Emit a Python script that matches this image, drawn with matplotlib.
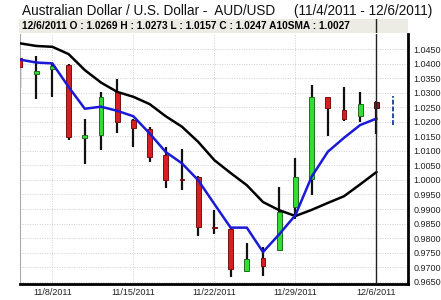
import matplotlib.pyplot as plt
import numpy as np
from matplotlib.patches import Rectangle

plt.rcParams['font.family'] = ['Liberation Sans', 'DejaVu Sans']

# daily AUD/USD candles (trading days only)
dates = ['11/4/2011', '11/7/2011', '11/8/2011', '11/9/2011', '11/10/2011', '11/11/2011',
         '11/14/2011', '11/15/2011', '11/16/2011', '11/17/2011', '11/18/2011',
         '11/21/2011', '11/22/2011', '11/23/2011', '11/24/2011', '11/25/2011',
         '11/28/2011', '11/29/2011', '11/30/2011', '12/1/2011', '12/2/2011',
         '12/5/2011', '12/6/2011']
opens = [1.0418, 1.0366, 1.0380, 1.0394, 1.0146, 1.0154, 1.0301, 1.0206, 1.0177, 1.0085,
         1.0004, 1.0011, 0.9837, 0.9833, 0.9688, 0.9733, 0.9760, 0.9907, 1.0003, 1.0284,
         1.0242, 1.0219, 1.0269]
highs = [1.0422, 1.0426, 1.0403, 1.0398, 1.0209, 1.0301, 1.0347, 1.0208, 1.0183, 1.0112,
         1.0105, 1.0013, 0.9896, 0.9839, 0.9784, 0.9770, 0.9975, 1.0074, 1.0326, 1.0286,
         1.0320, 1.0303, 1.0273]
lows = [1.0317, 1.0277, 1.0284, 1.0139, 1.0054, 1.0104, 1.0162, 1.0114, 1.0061, 0.9973,
        0.9965, 0.9808, 0.9813, 0.9665, 0.9682, 0.9669, 0.9758, 0.9864, 0.9947, 1.0151,
        1.0202, 1.0200, 1.0157]
closes = [1.0390, 1.0375, 1.0391, 1.0148, 1.0156, 1.0284, 1.0200, 1.0180, 1.0080, 0.9999,
          1.0000, 0.9837, 0.9834, 0.9692, 0.9728, 0.9704, 0.9890, 1.0011, 1.0284, 1.0246,
          1.0208, 1.0261, 1.0247]
sma_fast = [1.0414, 1.0404, 1.0401, 1.0320, 1.0245, 1.0252, 1.0238, 1.0219, 1.0160, 1.0096,
            1.0057, 0.9999, 0.9917, 0.9836, 0.9836, 0.9752, 0.9813, 0.9879, 1.0011, 1.0097,
            1.0145, 1.0189, 1.0211]
sma10 = [1.0470, 1.0461, 1.0458, 1.0433, 1.0378, 1.0335, 1.0303, 1.0286, 1.0261, 1.0219,
         1.0183, 1.0131, 1.0068, 1.0024, 0.9982, 0.9924, 0.9896, 0.9876, 0.9897, 0.9921,
         0.9944, 0.9985, 1.0027]
next_range = [1.0189, 1.0288]  # dashed projection for next day
yticks = np.arange(0.9650, 1.0451, 0.005)
label_dates = ['11/8/2011', '11/15/2011', '11/22/2011', '11/29/2011', '12/6/2011']

W, H = 441, 300
fig = plt.figure(figsize=(W / 100, H / 100), dpi=100)
fig.patch.set_facecolor('white')

fig.text(22 / W, 1 - 11 / H, 'Australian Dollar / U.S. Dollar -  AUD/USD     (11/4/2011 - 12/6/2011)',
         fontsize=9.8, va='center', ha='left', color='#111111')

# info bar
bar = fig.add_axes([19 / W, 1 - 33 / H, (408 - 19) / W, 14 / H])
bar.set_facecolor('#ecebe4')
for s in bar.spines.values():
    s.set_visible(False)
bar.set_xticks([])
bar.set_yticks([])
bar.set_xlim(0, 23.95)
bar.set_ylim(0, 1)
bar.axvline(22, color='#222222', lw=1)
bar.text(0.008, 0.5, '12/6/2011 O : 1.0269 H : 1.0273 L : 1.0157 C : 1.0247 A10SMA : 1.0027',
         transform=bar.transAxes, fontsize=7.3, fontweight='bold', va='center', ha='left')

ax = fig.add_axes([20 / W, 16 / H, (408 - 20) / W, (284 - 34) / H])
x = np.arange(len(dates))

for yv in yticks:
    ax.axhline(yv, color='#cfcfcf', lw=0.7, linestyle=(0, (1, 1.5)), zorder=0)
for d in label_dates:
    ax.axvline(dates.index(d), color='#cfcfcf', lw=0.7, linestyle=(0, (1, 1.5)), zorder=0)

bw = 0.3
for i in range(len(dates)):
    o, h, l, c = opens[i], highs[i], lows[i], closes[i]
    ax.plot([i, i], [l, h], color='#111111', lw=1.6, zorder=2, solid_capstyle='butt')
    if c >= o:
        fc, ec = '#33dd33', '#1f6f1f'
    else:
        fc, ec = '#d42020', '#7a1010'
    if i == len(dates) - 1:
        fc, ec = '#8a1c1c', '#4a0a0a'
    bot = min(o, c)
    ht = max(abs(c - o), 0.0003)
    ax.add_patch(Rectangle((i - bw / 2, bot), bw, ht, facecolor=fc, edgecolor=ec, lw=0.7, zorder=3))

ax.plot(x, sma10, color='#000000', lw=1.8, zorder=4)
ax.plot(x, sma_fast, color='#1a1ad6', lw=1.8, zorder=5)
ax.plot([len(dates), len(dates)], next_range, color='#2a4aa0', lw=1.4, linestyle=(0, (2.5, 1)), zorder=3)

ax.axvline(22, color='#222222', lw=1, zorder=6)

ax.set_xlim(0, 23.95)
ax.set_ylim(0.96421, 1.05021)
ax.yaxis.tick_right()
ax.set_yticks(yticks)
ax.set_yticklabels(['%.4f' % v for v in yticks], fontsize=6.5, color='#222222')
ax.set_xticks([dates.index(d) for d in label_dates])
ax.set_xticklabels(label_dates, fontsize=6.5, color='#222222')
ax.tick_params(axis='both', length=0, pad=3)
ax.tick_params(axis='y', pad=4)

ax.spines['top'].set_visible(False)
ax.spines['left'].set_color('#aaaaaa')
ax.spines['left'].set_linewidth(0.8)
ax.spines['bottom'].set_color('#000000')
ax.spines['bottom'].set_linewidth(2)
ax.spines['right'].set_color('#000000')
ax.spines['right'].set_linewidth(2)

fig.savefig('out.png', dpi=100)
